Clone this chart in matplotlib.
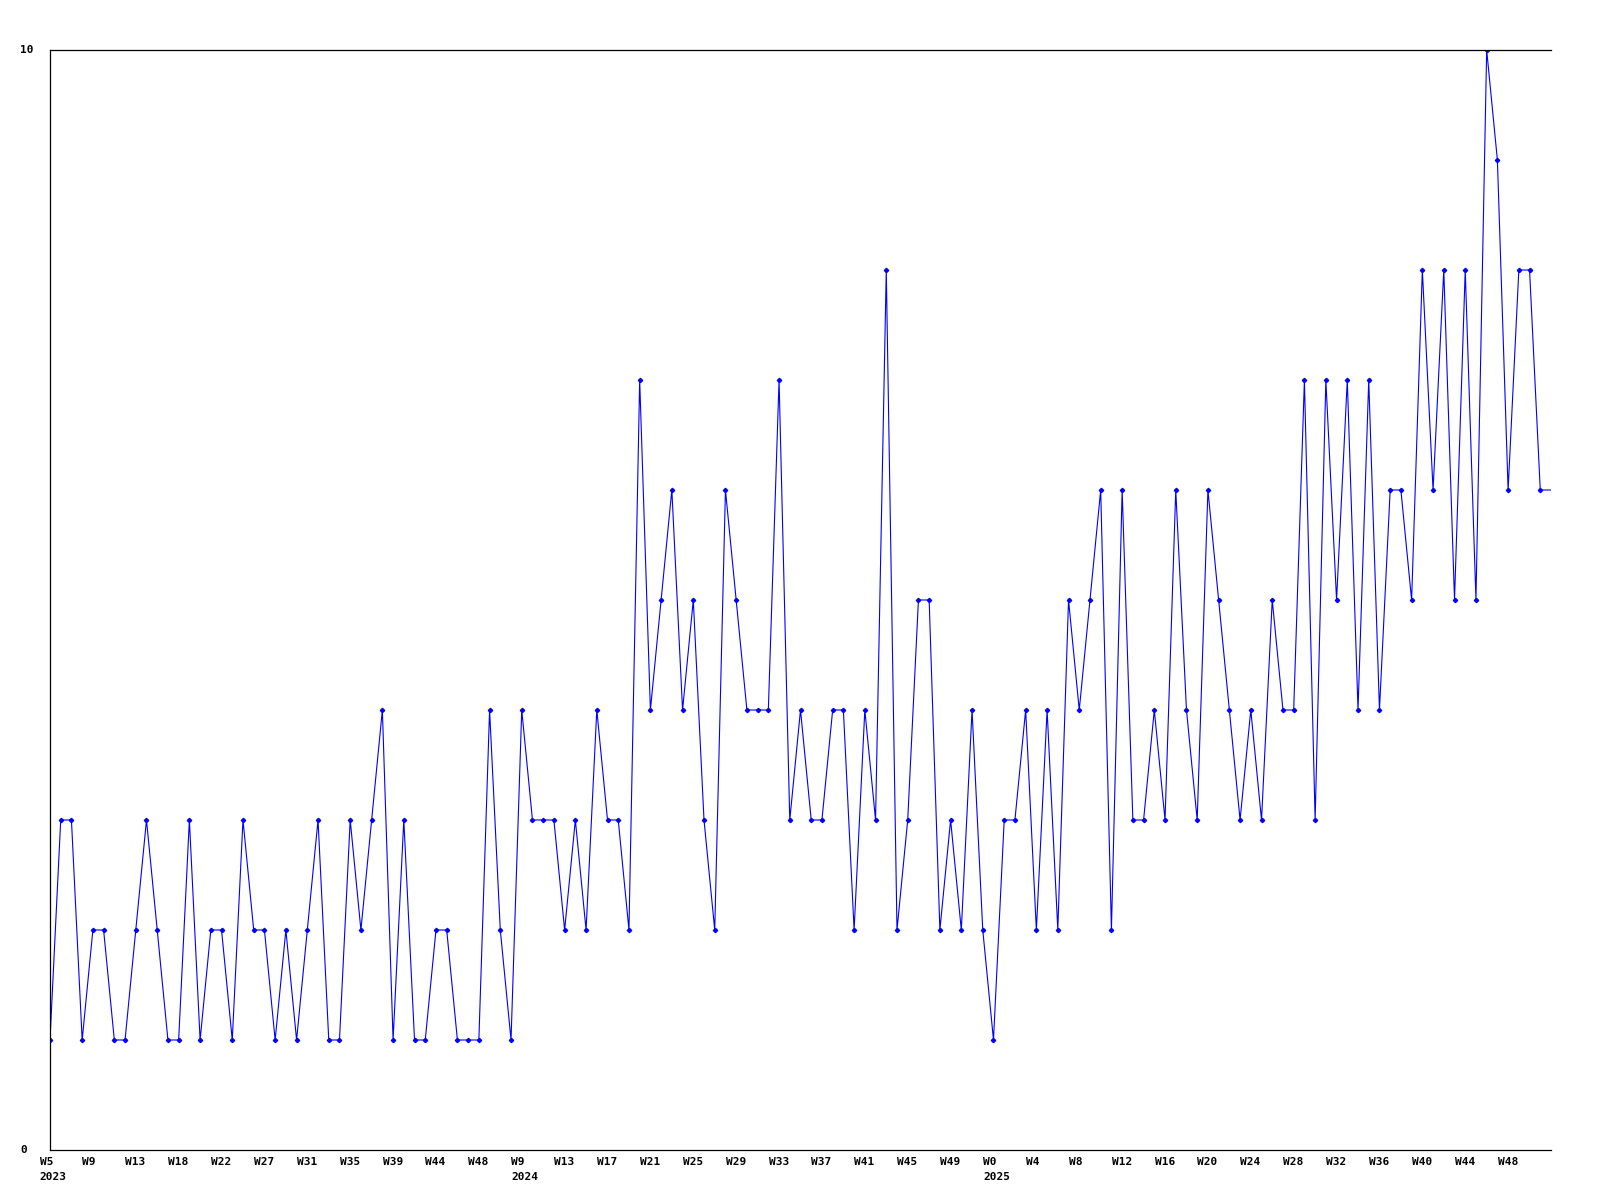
import matplotlib
matplotlib.use("Agg")
import matplotlib.pyplot as plt
import matplotlib.transforms as mtransforms

# weekly values, 2023 W5 onwards
values = [1, 3, 3, 1, 2, 2, 1, 1, 2, 3, 2, 1, 1, 3, 1, 2, 2, 1, 3, 2,
          2, 1, 2, 1, 2, 3, 1, 1, 3, 2, 3, 4, 1, 3, 1, 1, 2, 2, 1, 1,
          1, 4, 2, 1, 4, 3, 3, 3, 2, 3, 2, 4, 3, 3, 2, 7, 4, 5, 6, 4,
          5, 3, 2, 6, 5, 4, 4, 4, 7, 3, 4, 3, 3, 4, 4, 2, 4, 3, 8, 2,
          3, 5, 5, 2, 3, 2, 4, 2, 1, 3, 3, 4, 2, 4, 2, 5, 4, 5, 6, 2,
          6, 3, 3, 4, 3, 6, 4, 3, 6, 5, 4, 3, 4, 3, 5, 4, 4, 7, 3, 7,
          5, 7, 4, 7, 4, 6, 6, 5, 8, 6, 8, 5, 8, 5, 10, 9, 6, 8, 8, 6,
          6]

week_labels = ["W5", "W9", "W13", "W18", "W22", "W27", "W31", "W35", "W39",
               "W44", "W48", "W9", "W13", "W17", "W21", "W25", "W29", "W33",
               "W37", "W41", "W45", "W49", "W0", "W4", "W8", "W12", "W16",
               "W20", "W24", "W28", "W32", "W36", "W40", "W44", "W48"]
label_step = 4
year_labels = {0: "2023", 11: "2024", 22: "2025"}  # label index -> year

x = list(range(len(values)))

fig = plt.figure(figsize=(16, 12), dpi=100)
ax = fig.add_axes([50 / 1600, 50 / 1200, 1501 / 1600, 1100 / 1200])

# last point has no marker in the original
ax.plot(x, values, color="#0000ff", linewidth=0.8, marker="D", markersize=2.2,
        markevery=list(range(len(values) - 1)))

ax.set_xlim(0, len(values) - 1)
ax.set_ylim(0, 10)
ax.set_xticks([])
ax.set_yticks([])
ax.spines["right"].set_visible(False)
for s in ["left", "top", "bottom"]:
    ax.spines[s].set_linewidth(0.9)
    ax.spines[s].set_color("black")

font = dict(family="DejaVu Sans Mono", fontweight="bold", fontsize=8, color="black")

# y labels, only ends
fig.text(20 / 1600, 1 - 50 / 1200, "10", ha="left", va="center", **font)
fig.text(20 / 1600, 1 - 1150 / 1200, "0", ha="left", va="center", **font)

# week labels, left edge sits about one step left of the point
blend = mtransforms.blended_transform_factory(ax.transData, ax.transAxes)
shift = mtransforms.ScaledTranslation(-10.5 / 100, 0, fig.dpi_scale_trans)
down1 = mtransforms.ScaledTranslation(0, -12 / 100, fig.dpi_scale_trans)
down2 = mtransforms.ScaledTranslation(0, -27 / 100, fig.dpi_scale_trans)
for i, lab in enumerate(week_labels):
    xi = i * label_step
    ax.text(xi, 0, lab, transform=blend + shift + down1, ha="left", va="center", **font)
    if i in year_labels:
        ax.text(xi, 0, year_labels[i], transform=blend + shift + down2,
                ha="left", va="center", **font)

fig.savefig("out.png", dpi=100)
